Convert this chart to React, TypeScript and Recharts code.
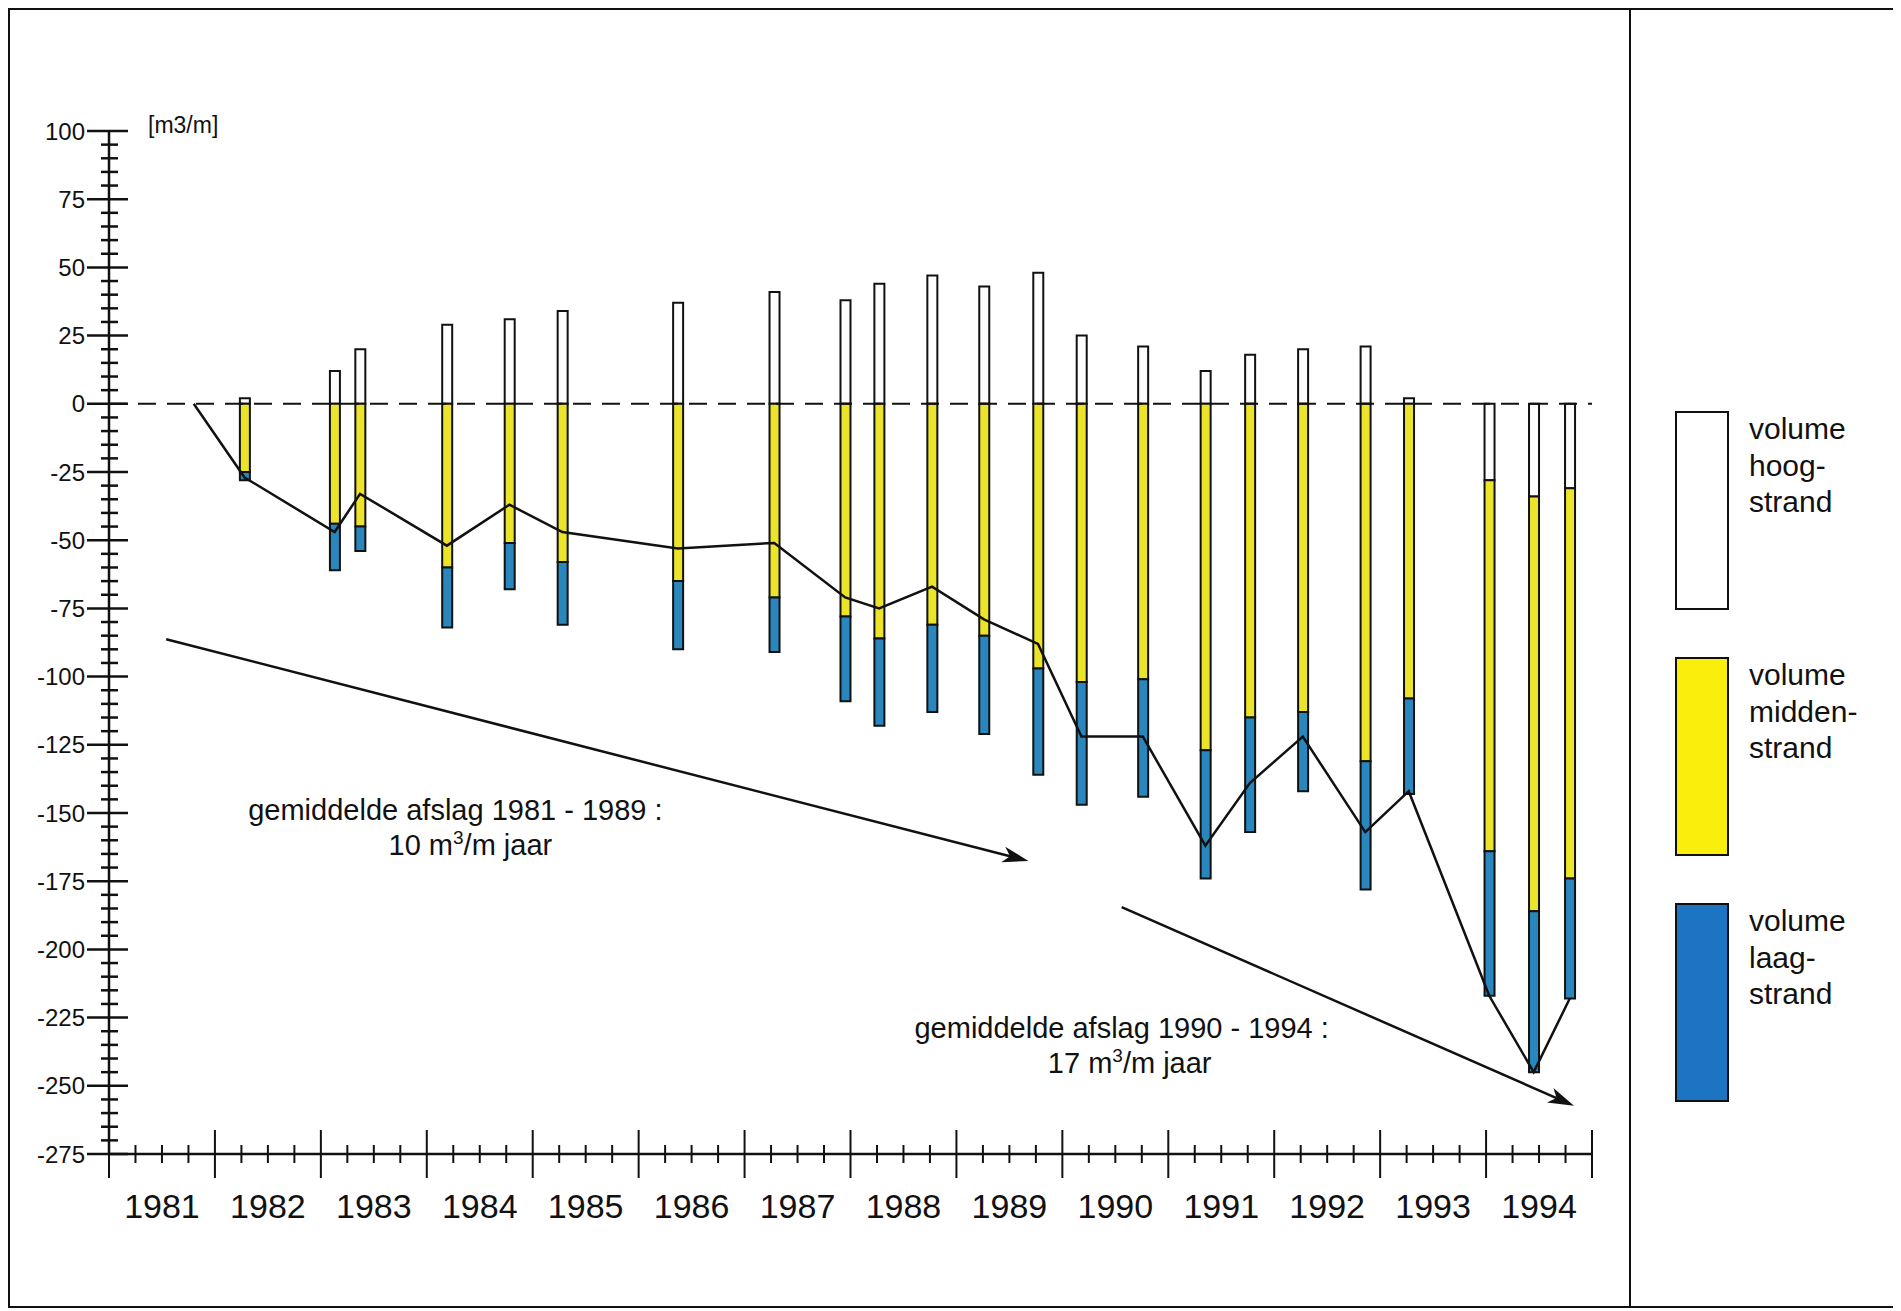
import React from 'react'
import {
  ComposedChart, Bar, Line, XAxis, YAxis, ReferenceLine, ReferenceDot, Legend,
} from 'recharts'

// measurement dates (decimal years); first point is the start of the net line
const DATES = [
  1981.8, 1982.28, 1983.13, 1983.37, 1984.19, 1984.78, 1985.28, 1986.37, 1987.28,
  1987.95, 1988.27, 1988.77, 1989.26, 1989.77, 1990.18, 1990.76, 1991.35, 1991.77,
  1992.27, 1992.86, 1993.27, 1994.03, 1994.45, 1994.79,
]
// volume hoogstrand [m3/m]
const HOOG = [null, 2, 12, 20, 29, 31, 34, 37, 41, 38, 44, 47, 43, 48, 25, 21, 12, 18, 20, 21, 2, -28, -34, -31]
// volume middenstrand [m3/m]
const MIDDEN = [null, -25, -44, -45, -60, -51, -58, -65, -71, -78, -86, -81, -85, -97, -102, -101, -127, -115, -113, -131, -108, -136, -152, -143]
// volume laagstrand [m3/m]
const LAAG = [null, -3, -17, -9, -22, -17, -23, -25, -20, -31, -32, -32, -36, -39, -45, -43, -47, -42, -29, -47, -35, -53, -59, -44]
// net volume change (black line) [m3/m]
const NET = [0, -27, -47, -33, -52, -37, -47, -53, -51, -71, -75, -67, -79, -88, -122, -122, -162, -139, -122, -157, -142, -217, -245, -218]

const YEARS = ['1981', '1982', '1983', '1984', '1985', '1986', '1987', '1988', '1989', '1990', '1991', '1992', '1993', '1994']
const Y_LABELS = [100, 75, 50, 25, 0, -25, -50, -75, -100, -125, -150, -175, -200, -225, -250, -275]
const UNIT = '[m3/m]'

const LEGEND_ORDER = ['hoog', 'midden', 'laag']
const LEGEND_LINES: Record<string, string[]> = {
  hoog: ['volume', 'hoog-', 'strand'],
  midden: ['volume', 'midden-', 'strand'],
  laag: ['volume', 'laag-', 'strand'],
}
const LEGEND_FILL: Record<string, string> = { hoog: '#ffffff', midden: '#faee0c', laag: '#1c74c2' }

const ANNOTATIONS = [
  { x: 1984.27, y: -152.6, title: 'gemiddelde afslag 1981 - 1989 :', rate: '10', dx: 15 },
  { x: 1990.56, y: -232.4, title: 'gemiddelde afslag 1990 - 1994 :', rate: '17', dx: 8 },
]
const ARROWS = [
  [{ x: 1981.54, y: -86.3 }, { x: 1989.68, y: -167.6 }],
  [{ x: 1990.56, y: -184.5 }, { x: 1994.83, y: -257.3 }],
]

const X_TICKS = Array.from({ length: 57 }, (_, i) => 1981 + i * 0.25)
const Y_TICKS = Array.from({ length: 76 }, (_, i) => 100 - i * 5)

const data = DATES.map((t, i) => ({ t, hoog: HOOG[i], midden: MIDDEN[i], laag: LAAG[i], net: NET[i] }))

const FONT = "'Liberation Sans', Arial, Helvetica, sans-serif"
const INK = '#111'

const renderXTick = (props: any) => {
  const { x, y, payload } = props
  const v = payload.value
  const major = Math.abs(v - Math.round(v)) < 1e-6
  const half = Math.abs(v - Math.floor(v) - 0.5) < 1e-6
  const len = major ? 24 : 9
  return (
    <g>
      <line x1={x} x2={x} y1={y - len} y2={y + len} stroke={INK} strokeWidth={2} />
      {half && (
        <text x={x} y={y + 64} textAnchor="middle" fontSize={34} fill={INK}>
          {YEARS[Math.floor(v) - 1981]}
        </text>
      )}
    </g>
  )
}

const renderYTick = (props: any) => {
  const { x, y, payload } = props
  const v = payload.value
  const major = Y_LABELS.includes(v)
  return (
    <g>
      <line x1={x - (major ? 22 : 8)} x2={x + (major ? 19 : 9)} y1={y} y2={y} stroke={INK} strokeWidth={2.5} />
      {major && (
        <text x={x - 24} y={y} dy={8.5} textAnchor="end" fontSize={24} fill={INK}>{v}</text>
      )}
    </g>
  )
}

const UnitLabel = (props: any) => {
  const vb = props.viewBox
  return (
    <text x={vb.x + vb.width + 39} y={vb.y + 2} fontSize={23} fill={INK}>{UNIT}</text>
  )
}

const Arrow = (props: any) => {
  const { x1, y1, x2, y2 } = props
  const a = Math.atan2(y2 - y1, x2 - x1)
  const c = Math.cos(a), s = Math.sin(a)
  const L = 26, W = 8, N = 19
  const bx = x2 - L * c, by = y2 - L * s
  const nx = x2 - N * c, ny = y2 - N * s
  const pts = [
    [x2, y2], [bx + W * s, by - W * c], [nx, ny], [bx - W * s, by + W * c],
  ].map((p) => p.join(',')).join(' ')
  return (
    <g>
      <line x1={x1} y1={y1} x2={nx} y2={ny} stroke={INK} strokeWidth={2.5} />
      <polygon points={pts} fill={INK} />
    </g>
  )
}

const AnnoText = ({ cx, cy, title, rate, dx }: any) => (
  <g fill={INK} fontSize={29}>
    <text x={cx} y={cy} textAnchor="middle">{title}</text>
    <text x={cx + dx} y={cy + 35} textAnchor="middle">
      {rate} m<tspan dy={-11} fontSize={19}>3</tspan><tspan dy={11}>/m jaar</tspan>
    </text>
  </g>
)

const LegendContent = (props: any) => {
  const keys = (props.payload || []).map((p: any) => p.dataKey)
  const items = LEGEND_ORDER.filter((k) => keys.includes(k))
  return (
    <div style={{ position: 'relative', fontFamily: FONT }}>
      {items.map((k, i) => (
        <div key={k} style={{ position: 'absolute', left: 0, top: i * 246, display: 'flex' }}>
          <div style={{ width: 50, height: 195, border: `2px solid ${INK}`, background: LEGEND_FILL[k] }} />
          <div style={{ marginLeft: 20, fontSize: 30, lineHeight: '36.5px', color: INK }}>
            {LEGEND_LINES[k].map((l) => <div key={l}>{l}</div>)}
          </div>
        </div>
      ))}
    </div>
  )
}

export default function App() {
  return (
    <div style={{ position: 'relative', width: 1885, height: 1296, border: `2px solid ${INK}`, background: '#fff', fontFamily: FONT }}>
      <ComposedChart
        width={1885}
        height={1296}
        data={data}
        stackOffset="sign"
        margin={{ top: 121, right: 303, bottom: 52, left: 9 }}
      >
        <XAxis
          dataKey="t" type="number" domain={[1981, 1995]} ticks={X_TICKS} interval={0}
          tick={renderXTick} tickLine={false} tickSize={0} tickMargin={0} height={100}
          axisLine={{ stroke: INK, strokeWidth: 2.5 }}
        />
        <YAxis
          type="number" domain={[-275, 100]} ticks={Y_TICKS} interval={0}
          tick={renderYTick} tickLine={false} tickSize={0} tickMargin={0} width={90}
          axisLine={{ stroke: INK, strokeWidth: 2.5 }} label={UnitLabel}
        />
        <ReferenceLine y={0} stroke={INK} strokeWidth={2} strokeDasharray="18 11" />
        <Bar dataKey="hoog" name="volume hoog-strand" stackId="v" barSize={10} fill="#fdfdfd" stroke={INK} strokeWidth={2} isAnimationActive={false} />
        <Bar dataKey="midden" name="volume midden-strand" stackId="v" barSize={10} fill="#ebe42b" stroke={INK} strokeWidth={2} isAnimationActive={false} />
        <Bar dataKey="laag" name="volume laag-strand" stackId="v" barSize={10} fill="#2a87bd" stroke={INK} strokeWidth={2} isAnimationActive={false} />
        <Line type="linear" dataKey="net" stroke={INK} strokeWidth={2.5} dot={false} activeDot={false} legendType="none" isAnimationActive={false} />
        {ARROWS.map((seg, i) => (
          <ReferenceLine key={`arrow-${i}`} segment={seg} shape={Arrow} ifOverflow="visible" />
        ))}
        {ANNOTATIONS.map((a, i) => (
          <ReferenceDot
            key={`note-${i}`} x={a.x} y={a.y} r={1} ifOverflow="visible"
            shape={(p: any) => <AnnoText cx={p.cx} cy={p.cy} title={a.title} rate={a.rate} dx={a.dx} />}
          />
        ))}
        <Legend
          content={LegendContent} layout="horizontal" verticalAlign="middle" align="center"
          wrapperStyle={{ left: 1665, top: 401, width: 215, height: 700 }}
        />
      </ComposedChart>
      <div style={{ position: 'absolute', left: 1619, top: 0, width: 2, height: '100%', background: INK }} />
    </div>
  )
}
